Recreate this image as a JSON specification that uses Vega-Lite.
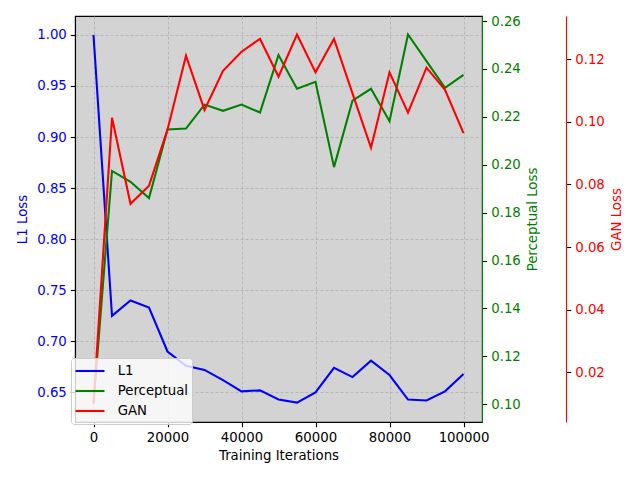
{
  "$schema": "https://vega.github.io/schema/vega-lite/v6.json",
  "width": 407,
  "height": 406,
  "autosize": {"type": "none"},
  "padding": {"left": 75, "top": 16, "right": 158, "bottom": 58},
  "background": "white",
  "config": {
    "font": "DejaVu Sans",
    "view": {"fill": "#d3d3d3", "stroke": "black", "strokeWidth": 1.1},
    "axis": {
      "labelFont": "DejaVu Sans", "labelFontSize": 13.3, "titleFont": "DejaVu Sans", "titleFontSize": 13.3,
      "titleFontWeight": "normal", "tickSize": 4.7, "tickColor": "black", "domainColor": "black",
      "labelPadding": 4, "labelColor": "black", "titleColor": "black", "tickWidth": 1.1, "domainWidth": 1.1,
      "gridColor": "#b0b0b0", "gridDash": [3, 2], "gridWidth": 0.8, "labelFlush": false, "labelOverlap": false
    },
    "legend": {
      "labelFont": "DejaVu Sans", "labelFontSize": 13.3, "labelColor": "black"
    }
  },
  "data": {"values": [
    {"iter": 0, "L1": 1.000, "Perceptual": 0.1003, "GAN": 0.0100},
    {"iter": 5000, "L1": 0.725, "Perceptual": 0.1974, "GAN": 0.1013},
    {"iter": 10000, "L1": 0.740, "Perceptual": 0.1929, "GAN": 0.0738},
    {"iter": 15000, "L1": 0.733, "Perceptual": 0.1861, "GAN": 0.0796},
    {"iter": 20000, "L1": 0.690, "Perceptual": 0.2147, "GAN": 0.0975},
    {"iter": 25000, "L1": 0.676, "Perceptual": 0.2151, "GAN": 0.1211},
    {"iter": 30000, "L1": 0.672, "Perceptual": 0.2251, "GAN": 0.1038},
    {"iter": 35000, "L1": 0.662, "Perceptual": 0.2225, "GAN": 0.1163},
    {"iter": 40000, "L1": 0.651, "Perceptual": 0.2251, "GAN": 0.1224},
    {"iter": 45000, "L1": 0.652, "Perceptual": 0.2218, "GAN": 0.1265},
    {"iter": 50000, "L1": 0.643, "Perceptual": 0.2458, "GAN": 0.1144},
    {"iter": 55000, "L1": 0.640, "Perceptual": 0.2317, "GAN": 0.1279},
    {"iter": 60000, "L1": 0.650, "Perceptual": 0.2346, "GAN": 0.1158},
    {"iter": 65000, "L1": 0.674, "Perceptual": 0.1990, "GAN": 0.1265},
    {"iter": 70000, "L1": 0.665, "Perceptual": 0.2268, "GAN": 0.1091},
    {"iter": 75000, "L1": 0.681, "Perceptual": 0.2317, "GAN": 0.0917},
    {"iter": 80000, "L1": 0.667, "Perceptual": 0.2182, "GAN": 0.1158},
    {"iter": 85000, "L1": 0.643, "Perceptual": 0.2544, "GAN": 0.1029},
    {"iter": 90000, "L1": 0.642, "Perceptual": 0.2433, "GAN": 0.1173},
    {"iter": 95000, "L1": 0.651, "Perceptual": 0.2321, "GAN": 0.1102},
    {"iter": 100000, "L1": 0.668, "Perceptual": 0.2375, "GAN": 0.0964}
  ]},
  "layer": [
    {
      "mark": {"type": "line", "strokeWidth": 2.08},
      "encoding": {
        "x": {"field": "iter", "type": "quantitative",
          "scale": {"domain": [-5000, 105000], "nice": false, "zero": false},
          "axis": {"values": [0, 20000, 40000, 60000, 80000, 100000], "format": "d", "title": "Training Iterations", "grid": true, "titlePadding": 4}},
        "y": {"field": "L1", "type": "quantitative",
          "scale": {"domain": [0.621, 1.0185], "nice": false, "zero": false},
          "axis": {"orient": "left", "values": [0.65, 0.7, 0.75, 0.8, 0.85, 0.9, 0.95, 1.0], "format": ".2f", "title": "L1 Loss",
            "titleColor": "#0000ff", "labelColor": "#0000ff", "grid": true, "titlePadding": 7}},
        "color": {"datum": "L1", "type": "nominal",
          "scale": {"domain": ["L1", "Perceptual", "GAN"], "range": ["#0000ff", "#008000", "#ff0000"]},
          "legend": {"orient": "none", "legendX": -4, "legendY": 342, "title": null, "symbolType": "stroke",
            "symbolSize": 841, "symbolStrokeWidth": 2.08, "fillColor": "rgba(255,255,255,0.8)", "strokeColor": "#cccccc",
            "cornerRadius": 3, "padding": 3, "rowPadding": 0, "clipHeight": 20, "labelOffset": 11.7}}
      }
    },
    {
      "mark": {"type": "line", "strokeWidth": 2.08},
      "encoding": {
        "x": {"field": "iter", "type": "quantitative"},
        "y": {"field": "Perceptual", "type": "quantitative",
          "scale": {"domain": [0.0926, 0.2621], "nice": false, "zero": false},
          "axis": {"orient": "right", "values": [0.10, 0.12, 0.14, 0.16, 0.18, 0.20, 0.22, 0.24, 0.26], "format": ".2f",
            "title": "Perceptual Loss", "titleAngle": 270, "titleBaseline": "top", "titleColor": "#008000", "labelColor": "#008000", "domainColor": "#008000", "grid": false, "titlePadding": 5}},
        "color": {"datum": "Perceptual", "type": "nominal"}
      }
    },
    {
      "mark": {"type": "line", "strokeWidth": 2.08},
      "encoding": {
        "x": {"field": "iter", "type": "quantitative"},
        "y": {"field": "GAN", "type": "quantitative",
          "scale": {"domain": [0.0041, 0.1338], "nice": false, "zero": false},
          "axis": {"orient": "right", "offset": 84, "values": [0.02, 0.04, 0.06, 0.08, 0.10, 0.12], "format": ".2f",
            "title": "GAN Loss", "titleAngle": 270, "titleBaseline": "top", "titleColor": "#ff0000", "labelColor": "#ff0000", "domainColor": "#ff0000", "grid": false, "titlePadding": 5}},
        "color": {"datum": "GAN", "type": "nominal"}
      }
    }
  ],
  "resolve": {"scale": {"y": "independent"}, "axis": {"y": "independent"}}
}
